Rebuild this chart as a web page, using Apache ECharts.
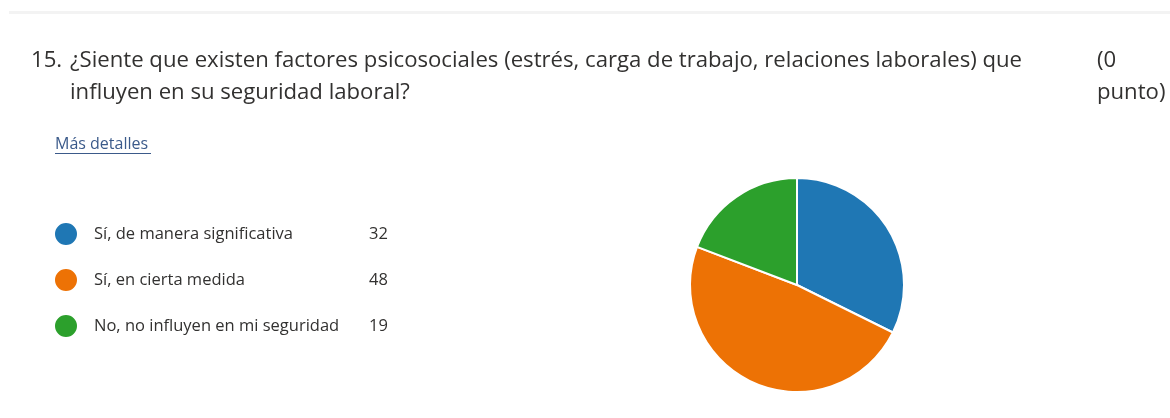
<!DOCTYPE html>
<html><head><meta charset="utf-8">
<script src="https://cdn.jsdelivr.net/npm/echarts@6/dist/echarts.min.js"></script>
<style>html,body{margin:0;padding:0;background:#fff}#c{width:1170px;height:418px}</style>
</head><body><div id="c"></div>
<script>
const categories = ["Sí, de manera significativa", "Sí, en cierta medida", "No, no influyen en mi seguridad"];
const values = [32, 48, 19];
const colors = ["#1f77b4", "#ed7205", "#2ca02c"];
const questionNumber = "15.";
const questionText = "¿Siente que existen factores psicosociales (estrés, carga de trabajo, relaciones laborales) que\ninfluyen en su seguridad laboral?";
const pointsText = "(0\npunto)";
const detailsText = "Más detalles";

const FONT = "'Open Sans', 'Noto Sans', sans-serif";
const chart = echarts.init(document.getElementById('c'), null, {renderer: 'canvas'});
const valueMap = {};
categories.forEach((c, i) => valueMap[c] = values[i]);
const titleStyle = {fontFamily: FONT, fontSize: 22.15, fontWeight: 'normal', color: '#323130', lineHeight: 32};

chart.setOption({
  animation: false,
  backgroundColor: '#ffffff',
  color: colors,
  title: [
    {text: questionNumber, left: 26, top: 40, textStyle: titleStyle},
    {text: questionText, left: 65, top: 40, textStyle: titleStyle},
    {text: pointsText, left: 1092, top: 40, textStyle: titleStyle},
    {text: detailsText, left: 50, top: 131, textStyle: {fontFamily: FONT, fontSize: 16, fontWeight: 'normal', color: '#3b5a8a'}}
  ],
  graphic: [
    {type: 'rect', shape: {x: 9, y: 11, width: 1161, height: 3}, style: {fill: '#f3f3f3'}, silent: true},
    {type: 'rect', shape: {x: 55, y: 153, width: 96, height: 1}, style: {fill: '#3b5a8a'}, silent: true}
  ],
  legend: {
    orient: 'vertical',
    left: 53,
    top: 221,
    padding: 0,
    itemWidth: 24,
    itemHeight: 24,
    itemGap: 20,
    icon: 'circle',
    selectedMode: false,
    data: categories,
    formatter: function (name) { return '{a|' + name + '}{b|' + valueMap[name] + '}'; },
    textStyle: {
      fontFamily: FONT,
      rich: {
        a: {fontFamily: FONT, fontSize: 16.5, lineHeight: 22, color: '#323130', width: 275, padding: [0, 0, 0, 11]},
        b: {fontFamily: FONT, fontSize: 16.5, lineHeight: 22, color: '#323130'}
      }
    }
  },
  series: [{
    type: 'pie',
    center: [797, 285],
    radius: [0, 107],
    startAngle: 90,
    clockwise: true,
    label: {show: false},
    labelLine: {show: false},
    emphasis: {disabled: true},
    itemStyle: {borderColor: '#ffffff', borderWidth: 2},
    data: categories.map((c, i) => ({name: c, value: values[i]}))
  }]
});
</script></body></html>
